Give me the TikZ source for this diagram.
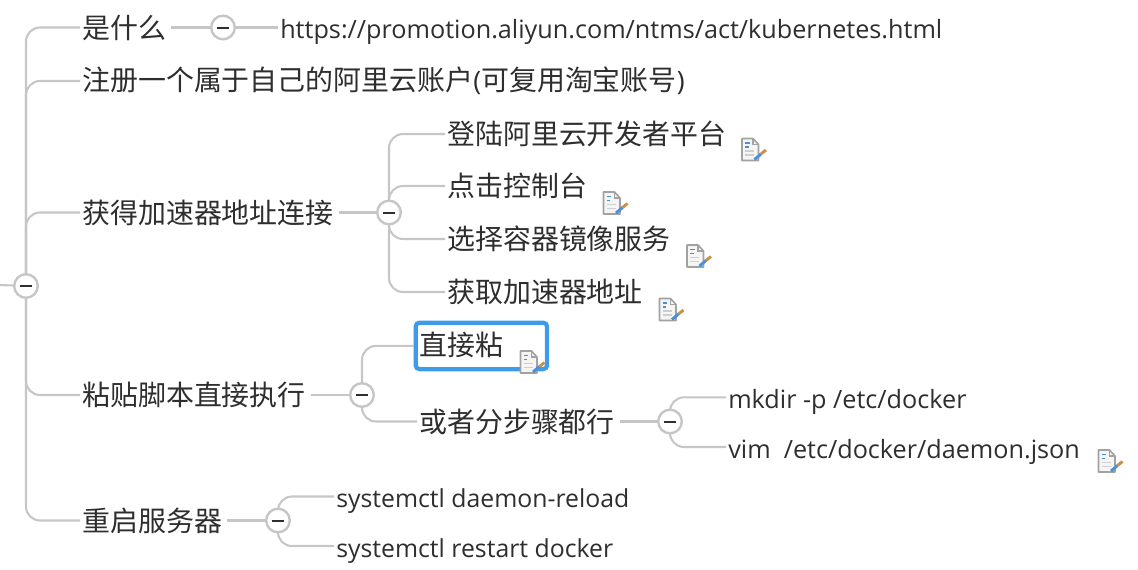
\documentclass[tikz,border=0pt]{standalone}
\usepackage{fontspec}
\setmainfont{Open Sans}
\newfontfamily\cjk{Noto Sans CJK SC}
\usetikzlibrary{backgrounds}
\definecolor{conn}{HTML}{C6C6C6}
\definecolor{ink}{HTML}{2E2E2E}
\definecolor{sel}{HTML}{3D9BE9}
\definecolor{pageedge}{HTML}{A2A2A2}
\definecolor{pagefill}{HTML}{F5F5F5}
\definecolor{pagetext}{HTML}{CFCFCF}
\definecolor{penblue}{HTML}{4A90D9}
\definecolor{pentip}{HTML}{C8924A}
\tikzset{
  px/.style={x=0.75pt,y=-0.75pt},
  topic/.style={anchor=west,inner ysep=0pt,inner xsep=1.5pt,text=ink,font=\cjk\fontsize{20.95}{24}\selectfont},
  code/.style={anchor=west,inner ysep=0pt,inner xsep=1.5pt,text=ink,text height=18.5pt,text depth=2pt,font=\fontsize{18.9}{22}\selectfont},
  code small/.style={code,font=\fontsize{18.6}{22}\selectfont},
  toggle/.style={circle,draw=conn,fill=white,line width=1.8pt,minimum size=17.7pt,inner sep=0pt,
    path picture={\draw[ink,line width=1.5pt] ([xshift=-4.7pt]path picture bounding box.center) -- ([xshift=4.7pt]path picture bounding box.center);}},
  link/.style={draw=conn,line width=1.55pt,rounded corners=10.5pt},
  stem/.style={link,shorten <=2pt},
  pics/noteicon/.style={code={
    \draw[pageedge,fill=pagefill,line width=1.2pt,line join=round] (0,0) -- (11,0) -- (16.5,6) -- (16.5,22) -- (0,22) -- cycle;
    \draw[pageedge,line width=0.8pt] (11,0) -- (11,6) -- (16.5,6);
    \draw[penblue,line width=0.9pt] (3,4.5) -- (7.5,4.5) (3,8.5) -- (6.5,8.5);
    \draw[pagetext,line width=0.8pt] (3,12.5) -- (12,12.5) (3,16.5) -- (12,16.5);
    \draw[penblue,line width=2.2pt] (12.5,21) -- (19,15.5);
    \draw[pentip,line width=2.2pt] (19,15.5) -- (24,11.5);
  }}
}
\begin{document}
\begin{tikzpicture}[px]
\useasboundingbox (0,0) rectangle (1138,569);
% nodes
\node[toggle] (root) at (26,286) {};
\coordinate (stub) at (0,285);
\node[topic] (what) at (80,27.5) {是什么};
\node[toggle] (whatT) at (223,27.5) {};
\node[code] (url) at (278,27.5) {https://promotion.aliyun.com/ntms/act/kubernetes.html};
\node[topic] (reg) at (80,81) {注册一个属于自己的阿里云账户{\rmfamily\fontsize{20}{24}\selectfont(}可复用淘宝账号{\rmfamily\fontsize{20}{24}\selectfont)}};
\node[topic] (get) at (80,212.5) {获得加速器地址连接};
\node[toggle] (getT) at (389,212.5) {};
\node[topic] (g1) at (445,134) {登陆阿里云开发者平台};
\node[topic] (g2) at (445,186) {点击控制台};
\node[topic] (g3) at (445,239) {选择容器镜像服务};
\node[topic] (g4) at (445,292) {获取加速器地址};
\node[topic] (paste) at (80,395) {粘贴脚本直接执行};
\node[toggle] (pasteT) at (362,395) {};
\node[draw=sel,line width=3.2pt,rounded corners=3pt,anchor=north west,inner sep=0pt,minimum width=98.6pt,minimum height=34.9pt] (direct) at (413.5,320.5) {};
\node[topic] (directL) at (417,345) {直接粘};
\node[topic] (step) at (417,421.5) {或者分步骤都行};
\node[toggle] (stepT) at (670,421.5) {};
\node[code] (mk) at (726,397.3) {mkdir -p /etc/docker};
\node[code] (vim) at (726,447) {vim\ \ /etc/docker/daemon.json};
\node[topic] (rst) at (80,520.5) {重启服务器};
\node[toggle] (rstT) at (278,520.5) {};
\node[code small] (sc1) at (334,496.5) {systemctl daemon-reload};
\node[code small] (sc2) at (334,546) {systemctl restart docker};
% note icons
\pic at (742,138.5) {noteicon};
\pic at (603.5,192) {noteicon};
\pic at (687,245) {noteicon};
\pic at (659.5,298.5) {noteicon};
\pic at (520.5,351) {noteicon};
\pic at (1098.5,450) {noteicon};
% connectors
\begin{scope}[on background layer]
\draw[link] (stub) -- (root);
\foreach \t in {what,reg,get,paste,rst} \draw[link] (root.center) |- (\t.west);
\draw[stem] (what.east) -- (whatT);
\draw[link] (whatT) -- (url.west);
\draw[stem] (get.east) -- (getT);
\foreach \t in {g1,g2,g3,g4} \draw[link] (getT.center) |- (\t.west);
\draw[stem] (paste.east) -- (pasteT);
\draw[link] (pasteT.center) |- (direct.west);
\draw[link] (pasteT.center) |- (step.west);
\draw[stem] (step.east) -- (stepT);
\draw[link] (stepT.center) |- (mk.west);
\draw[link] (stepT.center) |- (vim.west);
\draw[stem] (rst.east) -- (rstT);
\draw[link] (rstT.center) |- (sc1.west);
\draw[link] (rstT.center) |- (sc2.west);
\end{scope}
\end{tikzpicture}
\end{document}
